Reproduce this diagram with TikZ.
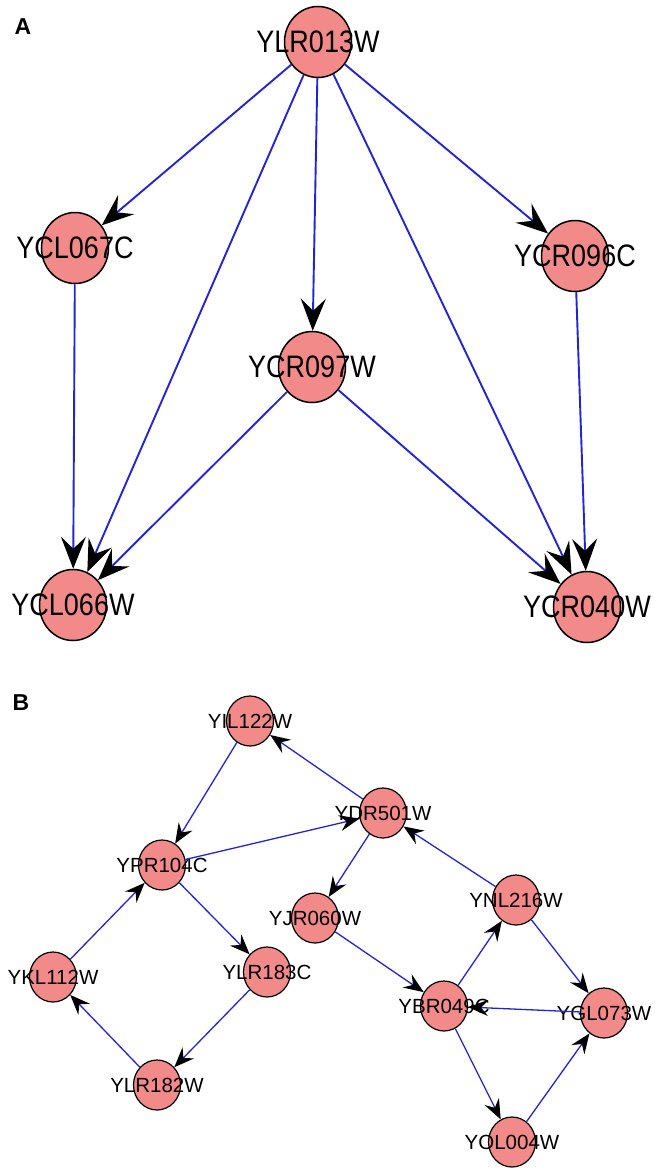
\documentclass[tikz,border=0pt]{standalone}
\usepackage{fontspec}
\setmainfont{Liberation Sans}
\usetikzlibrary{arrows.meta,shapes.geometric}
\definecolor{gene}{RGB}{242,138,138}
\definecolor{edgeblue}{RGB}{35,35,215}
\newcommand{\tallname}[1]{\scalebox{1}[1.15]{#1}}

\begin{document}
\begin{tikzpicture}[x=1pt,y=-1pt,
    big/.style={ellipse,draw=black,line width=1.5pt,fill=gene,minimum width=67pt,minimum height=71pt,inner sep=0pt},
    small/.style={ellipse,draw=black,line width=1.2pt,fill=gene,minimum width=47pt,minimum height=50pt,inner sep=0pt},
    bigtext/.style={font=\fontsize{27}{27}\selectfont,inner sep=0pt},
    smalltext/.style={font=\fontsize{20.5}{20.5}\selectfont,inner sep=0pt},
    bigedge/.style={draw=edgeblue,line width=1.9pt,-{Stealth[length=32pt,width=25pt,inset=12pt,color=black]}},
    smalledge/.style={draw=edgeblue,line width=1.3pt,-{Stealth[length=20pt,width=16pt,inset=7pt,color=black]}},
    panel/.style={font=\fontsize{23}{23}\selectfont\bfseries,inner sep=0pt}]
      \useasboundingbox (0,0) rectangle (654,1170);
      % panel A
      \node[panel] at (23,27) (pa) {A};
      \node[big,label={[bigtext]center:\tallname{YLR013W}}] at (318,42) (ylr013w) {};
      \node[big,label={[bigtext]center:\tallname{YCL067C}}] at (75,248) (ycl067c) {};
      \node[big,label={[bigtext]center:\tallname{YCR096C}}] at (575,256) (ycr096c) {};
      \node[big,label={[bigtext]center:\tallname{YCR097W}}] at (312,367) (ycr097w) {};
      \node[big,label={[bigtext]center:\tallname{YCL066W}}] at (73,605) (ycl066w) {};
      \node[big,label={[bigtext]center:\tallname{YCR040W}}] at (587,607) (ycr040w) {};
      \draw[bigedge] (ylr013w) -- (ycl067c);
      \draw[bigedge] (ylr013w) -- (ycl066w);
      \draw[bigedge] (ylr013w) -- (ycr097w);
      \draw[bigedge] (ylr013w) -- (ycr040w);
      \draw[bigedge] (ylr013w) -- (ycr096c);
      \draw[bigedge] (ycl067c) -- (ycl066w);
      \draw[bigedge] (ycr097w) -- (ycl066w);
      \draw[bigedge] (ycr097w) -- (ycr040w);
      \draw[bigedge] (ycr096c) -- (ycr040w);
      % panel B
      \node[panel] at (21,703) (pb) {B};
      \node[small,label={[smalltext]center:YIL122W}] at (250,721) (yil122w) {};
      \node[small,label={[smalltext]center:YDR501W}] at (383,813) (ydr501w) {};
      \node[small,label={[smalltext]center:YPR104C}] at (162,865) (ypr104c) {};
      \node[small,label={[smalltext]center:YJR060W}] at (315,918) (yjr060w) {};
      \node[small,label={[smalltext]center:YNL216W}] at (516,900) (ynl216w) {};
      \node[small,label={[smalltext]center:YKL112W}] at (53,977) (ykl112w) {};
      \node[small,label={[smalltext]center:YLR183C}] at (267,972) (ylr183c) {};
      \node[small,label={[smalltext]center:YBR049C}] at (444,1006) (ybr049c) {};
      \node[small,label={[smalltext]center:YGL073W}] at (604,1013) (ygl073w) {};
      \node[small,label={[smalltext]center:YLR182W}] at (157,1085) (ylr182w) {};
      \node[small,label={[smalltext]center:YOL004W}] at (512,1142) (yol004w) {};
      \draw[smalledge] (yil122w) -- (ypr104c);
      \draw[smalledge] (ydr501w) -- (yil122w);
      \draw[smalledge] (ypr104c) -- (ydr501w);
      \draw[smalledge] (ydr501w) -- (yjr060w);
      \draw[smalledge] (ynl216w) -- (ydr501w);
      \draw[smalledge] (ykl112w) -- (ypr104c);
      \draw[smalledge] (ypr104c) -- (ylr183c);
      \draw[smalledge] (ylr183c) -- (ylr182w);
      \draw[smalledge] (ylr182w) -- (ykl112w);
      \draw[smalledge] (yjr060w) -- (ybr049c);
      \draw[smalledge] (ybr049c) -- (ynl216w);
      \draw[smalledge] (ynl216w) -- (ygl073w);
      \draw[smalledge] (ygl073w) -- (ybr049c);
      \draw[smalledge] (ybr049c) -- (yol004w);
      \draw[smalledge] (yol004w) -- (ygl073w);
    \end{tikzpicture}
\end{document}
